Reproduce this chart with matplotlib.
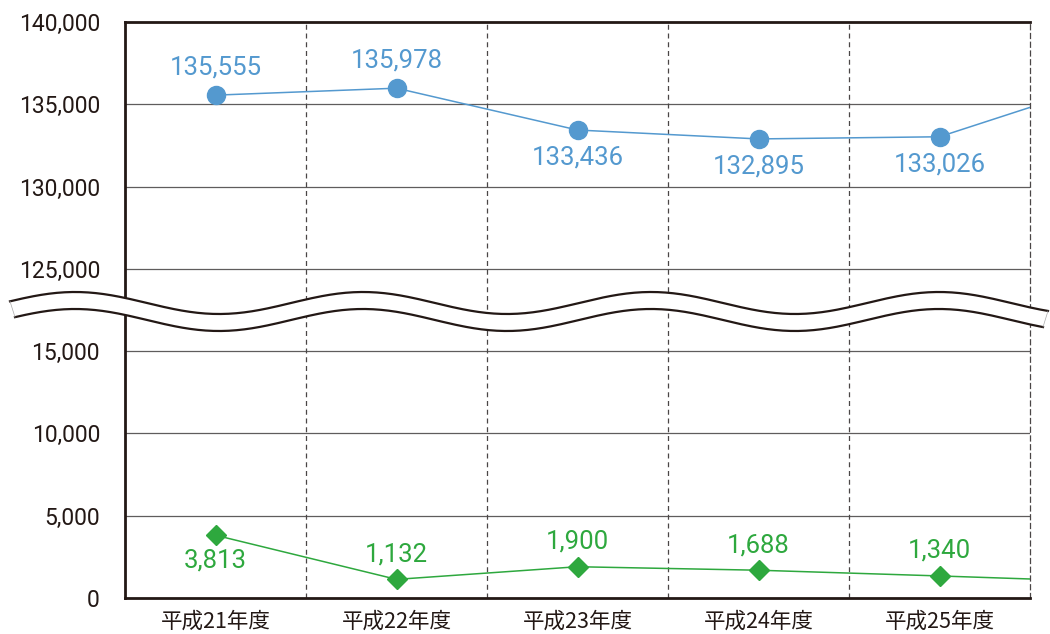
import numpy as np
import matplotlib
matplotlib.use("Agg")
import matplotlib.pyplot as plt
from matplotlib.lines import Line2D
from matplotlib.patches import Polygon

plt.rcParams['font.family'] = ['Roboto', 'Noto Sans CJK JP', 'DejaVu Sans']

# Fiscal years (the sixth year is only partly visible at the right edge)
years = ["平成21年度", "平成22年度", "平成23年度", "平成24年度", "平成25年度", "平成26年度"]
upper_series = [135555, 135978, 133436, 132895, 133026, 136600]
lower_series = [3813, 1132, 1900, 1688, 1340, 970]
shown_years = 5

upper_label_side = [1, 1, -1, -1, -1]   # +1 above the point, -1 below
lower_label_side = [-1, 1, 1, 1, 1]

tick_values = [0, 5000, 10000, 15000, 125000, 130000, 135000, 140000]

# Broken axis: everything from 125,000 upward is shifted down by 105,000
BREAK_SHIFT = 105000
def to_axis(v):
    v = np.asarray(v, dtype=float)
    return np.where(v >= 20000, v - BREAK_SHIFT, v)

BLUE = "#5499cf"
GREEN = "#2ea83e"
INK = "#231815"
GRID = "#5f5c5c"

W, H = 1050, 634
fig = plt.figure(figsize=(W / 100, H / 100), dpi=100)
ax = fig.add_axes([125 / W, 1 - 598 / H, (1030 - 125) / W, (598 - 22) / H])

x = np.arange(len(years))
ax.set_xlim(-0.5, shown_years - 0.5)
ax.set_ylim(0, 35000)

# horizontal grid
tick_pos = to_axis(tick_values)
for yp in tick_pos[1:-1]:
    ax.axhline(yp, color=GRID, lw=0.9, zorder=1)
# dashed category separators
for xb in np.arange(0.5, shown_years - 0.5, 1.0):
    ax.axvline(xb, color="#4a4646", lw=0.9, ls=(0, (4, 3)), zorder=1)

for side in ("left", "top", "bottom"):
    ax.spines[side].set_color(INK)
    ax.spines[side].set_linewidth(2.0)
ax.spines["right"].set_color("#4a4646")
ax.spines["right"].set_linewidth(0.9)
ax.spines["right"].set_linestyle((0, (4, 3)))

ax.set_yticks(tick_pos)
ax.set_yticklabels([f"{v:,}" for v in tick_values])
ax.set_xticks(x[:shown_years])
ax.set_xticklabels(years[:shown_years], family=['Noto Sans CJK JP', 'DejaVu Sans'])
ax.tick_params(axis="y", length=0, pad=18, labelsize=16.5, labelcolor=INK)
ax.tick_params(axis="x", length=0, pad=9, labelsize=15.5, labelcolor=INK)

# series
ax.plot(x, to_axis(upper_series), color=BLUE, lw=1.1, marker="o", ms=13,
        zorder=3)
ax.plot(x, to_axis(lower_series), color=GREEN, lw=1.1, marker="D", ms=10.5,
        zorder=3)

for i in range(shown_years):
    ax.annotate(f"{upper_series[i]:,}", (x[i], to_axis(upper_series[i])),
                xytext=(0, 20 * upper_label_side[i]), textcoords="offset points",
                ha="center", va="center", fontsize=18.5, color=BLUE, zorder=4)
    ax.annotate(f"{lower_series[i]:,}", (x[i], to_axis(lower_series[i])),
                xytext=(0, 18 * lower_label_side[i]), textcoords="offset points",
                ha="center", va="center", fontsize=18.5, color=GREEN, zorder=4)

# wavy break band drawn across the axis (figure pixel coordinates)
def wave(xs):
    return 303 - 11 * np.cos(2 * np.pi * (xs - 75) / 288)

xu = np.linspace(10, 1048, 400)
xl = np.linspace(15, 1043, 400)
yu = wave(xu)
yl = wave(xl) + 17

def fig_xy(px, py):
    return np.column_stack([np.asarray(px) / W, 1 - np.asarray(py) / H])

band = np.vstack([fig_xy(xu, yu), fig_xy(xl[::-1], yl[::-1])])
fig.patches.append(Polygon(band, closed=True, facecolor="white", edgecolor="none",
                           transform=fig.transFigure, zorder=5))
for px, py in ((xu, yu), (xl, yl)):
    pts = fig_xy(px, py)
    fig.lines.append(Line2D(pts[:, 0], pts[:, 1], color=INK, lw=1.6,
                            transform=fig.transFigure, zorder=6))
for (x0, y0), (x1, y1) in (((xu[0], yu[0]), (xl[0], yl[0])),
                           ((xu[-1], yu[-1]), (xl[-1], yl[-1]))):
    pts = fig_xy([x0, x1], [y0, y1])
    fig.lines.append(Line2D(pts[:, 0], pts[:, 1], color="#aaaaaa", lw=0.5,
                            transform=fig.transFigure, zorder=6))

fig.savefig("out.png", dpi=100)
